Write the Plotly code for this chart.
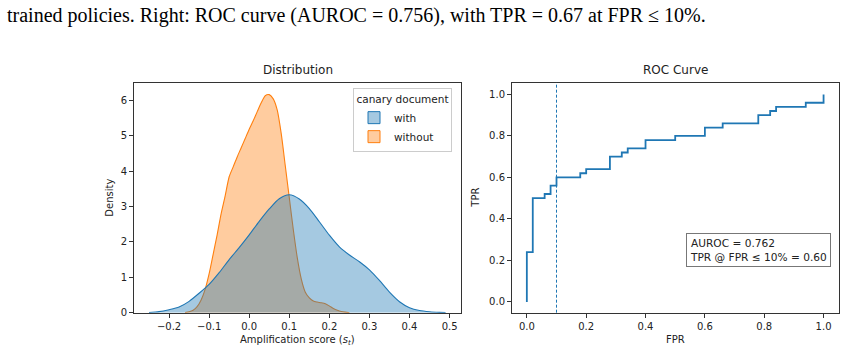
import plotly.graph_objects as go

W, H = 847, 359

# ---- data ----
# KDE of amplification score, "without" canary document
without_x = [-0.16, -0.15, -0.14, -0.13, -0.12, -0.11, -0.10, -0.09, -0.08, -0.07, -0.06,
             -0.05, -0.04, -0.03, -0.02, -0.01, 0.00, 0.01, 0.02, 0.03, 0.04, 0.05, 0.06,
             0.07, 0.08, 0.09, 0.10, 0.11, 0.12, 0.13, 0.14, 0.15, 0.16, 0.17, 0.18, 0.19,
             0.20, 0.21, 0.22, 0.23, 0.24, 0.25]
without_d = [0.005, 0.025, 0.07, 0.17, 0.36, 0.66, 1.10, 1.65, 2.20, 2.80, 3.30,
             3.84, 4.12, 4.40, 4.66, 4.92, 5.18, 5.42, 5.68, 5.93, 6.13, 6.16, 6.04,
             5.72, 5.05, 4.15, 3.25, 2.35, 1.55, 0.95, 0.58, 0.42, 0.33, 0.30, 0.28, 0.25,
             0.19, 0.12, 0.07, 0.035, 0.015, 0.0]

# KDE of amplification score, "with" canary document
with_x = [-0.25, -0.225, -0.20, -0.175, -0.15, -0.125, -0.10, -0.075, -0.05, -0.025,
          0.00, 0.025, 0.05, 0.075, 0.10, 0.125, 0.15, 0.175, 0.20, 0.225, 0.25, 0.275,
          0.30, 0.325, 0.35, 0.375, 0.40, 0.425, 0.45, 0.475, 0.49]
with_d = [0.005, 0.03, 0.085, 0.16, 0.32, 0.55, 0.80, 1.13, 1.50, 1.84,
          2.20, 2.58, 2.93, 3.22, 3.33, 3.21, 2.94, 2.57, 2.19, 1.86, 1.63, 1.44,
          1.21, 0.91, 0.58, 0.31, 0.14, 0.06, 0.025, 0.01, 0.005]

# ROC curve corner points
roc_fpr = [0.0, 0.0, 0.02, 0.06, 0.08, 0.10, 0.18, 0.20, 0.28, 0.32, 0.34, 0.40,
           0.50, 0.60, 0.66, 0.78, 0.82, 0.84, 0.94, 1.0]
roc_tpr = [0.0, 0.24, 0.50, 0.52, 0.56, 0.60, 0.62, 0.64, 0.70, 0.72, 0.74, 0.78,
           0.80, 0.84, 0.86, 0.90, 0.92, 0.94, 0.96, 1.0]

fpr_threshold = 0.10
auroc_text = "AUROC = 0.762"
tpr_text = "TPR @ FPR ≤ 10% = 0.60"
caption = "trained policies. Right: ROC curve (AUROC = 0.756), with TPR = 0.67 at FPR ≤ 10%."
legend_labels = ["with", "without"]

left_xticks = [-0.2, -0.1, 0.0, 0.1, 0.2, 0.3, 0.4, 0.5]
left_yticks = [0, 1, 2, 3, 4, 5, 6]
roc_ticks = [0.0, 0.2, 0.4, 0.6, 0.8, 1.0]

BLUE = "#1f77b4"
ORANGE = "#ff7f0e"
BLUE_FILL = "rgba(31,119,180,0.4)"
ORANGE_FILL = "rgba(255,127,14,0.4)"
FONT = "DejaVu Sans"
TXT = "#222222"
AX = "#333333"

fig = go.Figure()

# orange drawn first (blue overlays it -> greyish overlap)
fig.add_trace(go.Scatter(
    x=without_x, y=without_d, name=legend_labels[1], mode="lines", showlegend=False,
    line=dict(color=ORANGE, width=1.1, shape="spline", smoothing=0.7),
    fill="tozeroy", fillcolor=ORANGE_FILL, xaxis="x", yaxis="y"))
fig.add_trace(go.Scatter(
    x=with_x, y=with_d, name=legend_labels[0], mode="lines", showlegend=False,
    line=dict(color=BLUE, width=1.1, shape="spline", smoothing=0.7),
    fill="tozeroy", fillcolor=BLUE_FILL, xaxis="x", yaxis="y"))

# legend patches (legend-only entries)
for lab, fc, lc, rank in [(legend_labels[0], BLUE_FILL, BLUE, 1),
                          (legend_labels[1], ORANGE_FILL, ORANGE, 2)]:
    fig.add_trace(go.Bar(x=[None], y=[None], name=lab, legendrank=rank,
                         marker=dict(color=fc, line=dict(color=lc, width=1)),
                         xaxis="x", yaxis="y", hoverinfo="skip"))

fig.add_trace(go.Scatter(
    x=roc_fpr, y=roc_tpr, mode="lines", showlegend=False,
    line=dict(color=BLUE, width=1.8, shape="hv"),
    xaxis="x2", yaxis="y2"))

def px_x(p):
    return p / W

def px_y(p):
    return 1 - p / H

y_dom = [px_y(318), px_y(84)]
axis_common = dict(showline=True, mirror=True, linecolor=AX, linewidth=1,
                   ticks="outside", ticklen=4, tickcolor=AX, tickwidth=1,
                   showgrid=False, zeroline=False,
                   tickfont=dict(family=FONT, size=10, color=TXT))

fig.update_layout(
    width=W, height=H,
    margin=dict(l=0, r=0, t=0, b=0),
    paper_bgcolor="white", plot_bgcolor="white",
    font=dict(family=FONT, size=10, color=TXT),
    xaxis=dict(domain=[px_x(134), px_x(461)], range=[-0.2875, 0.5285],
               tickvals=left_xticks, tickformat=".1f", anchor="y", **axis_common),
    yaxis=dict(domain=y_dom, range=[0, 6.5], tickvals=left_yticks,
               anchor="x", **axis_common),
    xaxis2=dict(domain=[px_x(512), px_x(839)], range=[-0.05, 1.052],
                tickvals=roc_ticks, tickformat=".1f", anchor="y2", **axis_common),
    yaxis2=dict(domain=y_dom, range=[-0.052, 1.057], tickvals=roc_ticks,
                tickformat=".1f", anchor="x2", **axis_common),
    legend=dict(
        x=px_x(353), y=px_y(90), xanchor="left", yanchor="top",
        bgcolor="rgba(255,255,255,0.8)", bordercolor="#cccccc", borderwidth=1,
        font=dict(family=FONT, size=10.5, color=TXT),
        title=dict(text="canary document", side="top center",
                   font=dict(family=FONT, size=10.5, color=TXT)),
        tracegroupgap=0,
    ),
)

fig.add_shape(type="line", xref="x2", yref="y2 domain",
              x0=fpr_threshold, x1=fpr_threshold, y0=0, y1=1,
              line=dict(color=BLUE, width=1, dash="3px,2px"))

ann = []
ann.append(dict(text="Distribution", x=(px_x(134) + px_x(461)) / 2, y=px_y(80),
                xref="paper", yref="paper", xanchor="center", yanchor="bottom",
                showarrow=False, font=dict(family=FONT, size=12, color=TXT)))
ann.append(dict(text="ROC Curve", x=(px_x(512) + px_x(839)) / 2, y=px_y(80),
                xref="paper", yref="paper", xanchor="center", yanchor="bottom",
                showarrow=False, font=dict(family=FONT, size=12, color=TXT)))
ann.append(dict(text="Amplification score (<i>s</i><sub><i>t</i></sub>)",
                x=(px_x(134) + px_x(461)) / 2, y=px_y(346),
                xref="paper", yref="paper", xanchor="center", yanchor="middle",
                showarrow=False, font=dict(family=FONT, size=10, color=TXT)))
ann.append(dict(text="FPR", x=(px_x(512) + px_x(839)) / 2, y=px_y(345),
                xref="paper", yref="paper", xanchor="center", yanchor="middle",
                showarrow=False, font=dict(family=FONT, size=10, color=TXT)))
ann.append(dict(text="Density", x=px_x(110), y=(y_dom[0] + y_dom[1]) / 2,
                xref="paper", yref="paper", xanchor="center", yanchor="middle",
                textangle=-90, showarrow=False, font=dict(family=FONT, size=10, color=TXT)))
ann.append(dict(text="TPR", x=px_x(476), y=(y_dom[0] + y_dom[1]) / 2,
                xref="paper", yref="paper", xanchor="center", yanchor="middle",
                textangle=-90, showarrow=False, font=dict(family=FONT, size=10, color=TXT)))
ann.append(dict(text=auroc_text + "<br>" + tpr_text,
                x=px_x(686), y=px_y(272), xref="paper", yref="paper",
                xanchor="left", yanchor="bottom", align="left", showarrow=False,
                bgcolor="white", bordercolor="#777777", borderwidth=1, borderpad=3,
                font=dict(family=FONT, size=10.6, color=TXT)))
ann.append(dict(text=caption, x=px_x(5), y=px_y(16), xref="paper", yref="paper",
                xanchor="left", yanchor="middle", showarrow=False,
                font=dict(family="Liberation Serif", size=20, color="#000000")))
fig.update_layout(annotations=ann)

fig.write_html("out.html")
